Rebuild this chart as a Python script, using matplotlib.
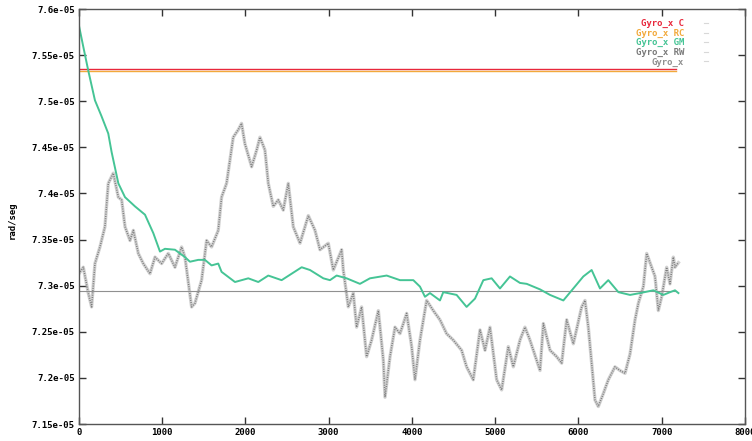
"""Gyro_x drift comparison (C, RC, GM, RW) in gnuplot-like style."""

import matplotlib
matplotlib.use("Agg")
import matplotlib.pyplot as plt
from matplotlib.lines import Line2D

# values in units of 1e-05 rad/seg
GYRO_C = 7.5346
GYRO_RC = 7.5327
GYRO_MEAN = 7.2940
SPAN_END = 7170

gm_x = [0, 50, 110, 192, 270, 352, 392, 473, 553, 673, 793, 893, 973, 1033, 1153,
        1273, 1333, 1433, 1513, 1593, 1673, 1713, 1874, 2034, 2154, 2274, 2434,
        2675, 2775, 2935, 3015, 3095, 3215, 3375, 3495, 3696, 3856, 4016, 4096,
        4156, 4216, 4336, 4376, 4536, 4656, 4757, 4857, 4957, 5057, 5177, 5297,
        5378, 5538, 5658, 5818, 5938, 6058, 6158, 6258, 6358, 6479, 6619, 6739,
        6899, 7019, 7100, 7159, 7200]
gm_y = [7.582, 7.560, 7.534, 7.501, 7.484, 7.465, 7.445, 7.411, 7.396, 7.386,
        7.377, 7.357, 7.337, 7.340, 7.339, 7.331, 7.326, 7.328, 7.328, 7.322,
        7.324, 7.315, 7.304, 7.308, 7.304, 7.311, 7.306, 7.320, 7.317, 7.308,
        7.306, 7.311, 7.308, 7.302, 7.308, 7.311, 7.306, 7.306, 7.299, 7.288,
        7.292, 7.284, 7.293, 7.290, 7.277, 7.286, 7.306, 7.308, 7.297, 7.310,
        7.303, 7.302, 7.296, 7.290, 7.284, 7.297, 7.310, 7.317, 7.297, 7.306,
        7.293, 7.290, 7.292, 7.295, 7.290, 7.293, 7.295, 7.292]

rw_x = [0, 52, 112, 152, 192, 252, 312, 352, 412, 473, 513, 553, 613, 653, 713,
        773, 853, 913, 993, 1073, 1153, 1233, 1273, 1353, 1393, 1473, 1533, 1593,
        1673, 1713, 1773, 1853, 1913, 1953, 1993, 2074, 2134, 2174, 2234, 2274,
        2334, 2394, 2454, 2514, 2574, 2655, 2755, 2835, 2895, 2995, 3055, 3155,
        3175, 3235, 3295, 3335, 3395, 3455, 3515, 3596, 3656, 3676, 3736, 3796,
        3856, 3936, 3996, 4036, 4096, 4176, 4256, 4336, 4416, 4496, 4596, 4656,
        4736, 4817, 4877, 4937, 5017, 5077, 5157, 5217, 5297, 5357, 5417, 5538,
        5578, 5658, 5738, 5798, 5858, 5938, 6038, 6078, 6118, 6158, 6198, 6238,
        6298, 6358, 6438, 6499, 6559, 6619, 6679, 6719, 6779, 6819, 6879, 6919,
        6959, 6999, 7059, 7099, 7139, 7159, 7200]
rw_y = [7.313, 7.320, 7.292, 7.277, 7.324, 7.342, 7.364, 7.411, 7.422, 7.396,
        7.393, 7.364, 7.349, 7.360, 7.335, 7.324, 7.313, 7.331, 7.324, 7.335,
        7.320, 7.342, 7.331, 7.277, 7.281, 7.306, 7.349, 7.342, 7.360, 7.396,
        7.411, 7.461, 7.469, 7.476, 7.454, 7.429, 7.447, 7.461, 7.447, 7.411,
        7.386, 7.393, 7.382, 7.411, 7.364, 7.346, 7.376, 7.360, 7.339, 7.346,
        7.317, 7.339, 7.317, 7.277, 7.292, 7.255, 7.277, 7.223, 7.241, 7.273,
        7.219, 7.179, 7.223, 7.255, 7.248, 7.270, 7.234, 7.198, 7.241, 7.284,
        7.273, 7.263, 7.248, 7.241, 7.230, 7.212, 7.198, 7.252, 7.230, 7.255,
        7.198, 7.187, 7.234, 7.212, 7.241, 7.255, 7.241, 7.208, 7.259, 7.230,
        7.223, 7.216, 7.263, 7.237, 7.277, 7.284, 7.255, 7.216, 7.176, 7.169,
        7.183, 7.198, 7.212, 7.208, 7.205, 7.226, 7.263, 7.281, 7.299, 7.335,
        7.320, 7.310, 7.273, 7.288, 7.320, 7.302, 7.331, 7.320, 7.325]

x_ticks = [0, 1000, 2000, 3000, 4000, 5000, 6000, 7000, 8000]
y_ticks = [7.15, 7.2, 7.25, 7.3, 7.35, 7.4, 7.45, 7.5, 7.55, 7.6]
y_tick_labels = ["7.15e-05", "7.2e-05", "7.25e-05", "7.3e-05", "7.35e-05",
                 "7.4e-05", "7.45e-05", "7.5e-05", "7.55e-05", "7.6e-05"]

series_labels = ["Gyro_x C", "Gyro_x RC", "Gyro_x GM", "Gyro_x RW", "Gyro_x"]
series_colors = ["#e8283c", "#f2a93b", "#45c495", "#7a7a7a", "#909090"]


def main() -> None:
    fig = plt.figure(figsize=(7.52, 4.41), dpi=100)
    ax = fig.add_axes([0.105, 0.0385, 0.8857, 0.941])

    mono = "DejaVu Sans Mono"

    ax.plot([0, SPAN_END], [GYRO_C, GYRO_C], color=series_colors[0], lw=1.0)
    ax.plot([0, SPAN_END], [GYRO_RC, GYRO_RC], color=series_colors[1], lw=1.0)
    # random walk drawn as a loose dotted trace, like the point cloud
    ax.plot(rw_x, rw_y, color="#9a9a9a", lw=2.4, alpha=0.45)
    ax.plot(rw_x, rw_y, color=series_colors[3], lw=1.1, ls=(0, (0.6, 0.9)))
    ax.plot([0, SPAN_END], [GYRO_MEAN, GYRO_MEAN], color=series_colors[4], lw=0.8)
    ax.plot(gm_x, gm_y, color=series_colors[2], lw=1.4)

    ax.set_xlim(0, 8000)
    ax.set_ylim(7.15, 7.6)
    ax.set_xticks(x_ticks)
    ax.set_xticklabels([str(t) for t in x_ticks], fontfamily=mono,
                       fontweight="bold", fontsize=6.5)
    ax.set_yticks(y_ticks)
    ax.set_yticklabels(y_tick_labels, fontfamily=mono, fontweight="bold",
                       fontsize=6.5)
    ax.tick_params(direction="in", length=5, width=1, color="#333333",
                   top=True, right=True, pad=3)
    for spine in ax.spines.values():
        spine.set_color("#555555")
        spine.set_linewidth(1.0)

    fig.text(0.016, 0.5, "rad/seg", rotation=90, ha="center", va="center",
             fontfamily=mono, fontweight="bold", fontsize=6.5)

    handles = [Line2D([0], [0], color="#d8d8d8", lw=0.8) for _ in series_labels]
    ax.legend(handles, series_labels, loc="upper right",
              bbox_to_anchor=(0.956, 0.995), frameon=False, markerfirst=False,
              handlelength=0.4, handletextpad=2.2, labelspacing=0.05,
              labelcolor=series_colors,
              prop={"family": mono, "weight": "bold", "size": 6.5})

    fig.savefig("out.png", dpi=100)


if __name__ == "__main__":
    main()
